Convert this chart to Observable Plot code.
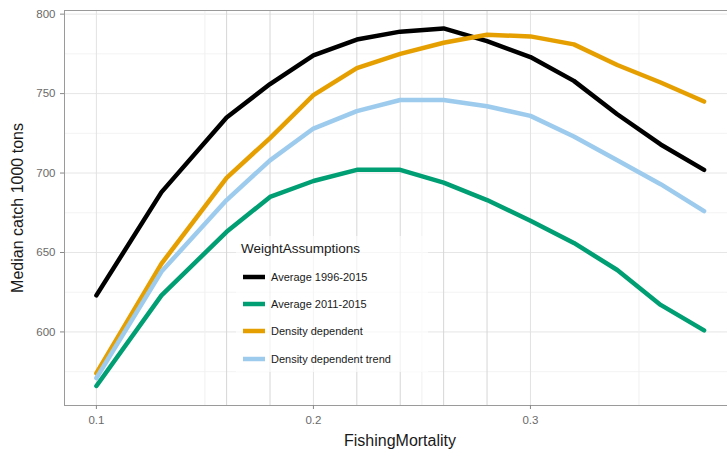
<!DOCTYPE html>
<html><head><meta charset="utf-8">
<script src="https://cdn.jsdelivr.net/npm/d3@7"></script>
<script src="https://cdn.jsdelivr.net/npm/@observablehq/plot@0.6"></script>
<style>
body{margin:0;background:#fff;font-family:"Liberation Sans",Arial,sans-serif;}
#wrap{position:relative;width:727px;height:455px;overflow:hidden;}
#legend{position:absolute;left:236px;top:236px;width:192px;height:136px;background:rgba(255,255,255,0.65);}
#legend .title{position:absolute;left:5px;top:5px;font-size:13.5px;color:#1a1a1a;line-height:16px;white-space:nowrap;}
#legend .item{position:absolute;left:7px;height:16px;display:flex;align-items:center;font-size:11px;color:#1a1a1a;white-space:nowrap;}
#legend .item svg{margin-right:6px;}
</style></head><body><div id="wrap"></div>
<script>
// data
const fishing = [0.1, 0.13, 0.16, 0.18, 0.2, 0.22, 0.24, 0.26, 0.28, 0.3, 0.32, 0.34, 0.36, 0.38];
const avg19962015 = [623, 688, 735, 756, 774, 784, 789, 791, 783, 773, 758, 737, 718, 702];
const avg20112015 = [566, 623, 663, 685, 695, 702, 702, 694, 683, 670, 656, 639, 617, 601];
const densityDependent = [574, 643, 697, 722, 749, 766, 775, 782, 787, 786, 781, 768, 757, 745];
const densityTrend = [571, 638, 683, 708, 728, 739, 746, 746, 742, 736, 723, 708, 693, 676];
const seriesNames = ["Average 1996-2015", "Average 2011-2015", "Density dependent", "Density dependent trend"];
const seriesColors = ["#000000", "#009E73", "#E69F00", "#9DCBEE"];
const xTicks = [0.1, 0.2, 0.3];
const xMinor = [0.15, 0.25, 0.35];
const xRefLines = [0.16, 0.18, 0.22, 0.24, 0.26, 0.28];
const yTicks = [600, 650, 700, 750, 800];
const yMinor = [575, 625, 675, 725, 775];
const xTitle = "FishingMortality";
const yTitle = "Median catch 1000 tons";
const legendTitle = "WeightAssumptions";

const seriesValues = [avg19962015, avg20112015, densityDependent, densityTrend];
const rows = seriesNames.flatMap((name, i) => fishing.map((f, j) => ({F: f, catch: seriesValues[i][j], group: name})));

const font = "'Liberation Sans', Arial, sans-serif";
const plot = Plot.plot({
  width: 727, height: 455,
  marginLeft: 64, marginTop: 10, marginRight: 0, marginBottom: 50,
  x: {domain: [0.0853, 0.3908]},
  y: {domain: [553.7, 802.3]},
  color: {domain: seriesNames, range: seriesColors},
  style: {fontFamily: font, background: "#fff", overflow: "visible"},
  marks: [
    Plot.ruleY(yMinor, {stroke: "#f3f3f3", strokeWidth: 1}),
    Plot.ruleY(yTicks, {stroke: "#e6e6e6", strokeWidth: 1}),
    Plot.ruleX(xMinor, {stroke: "#f0f0f0", strokeWidth: 1}),
    Plot.ruleX(xTicks, {stroke: "#e2e2e2", strokeWidth: 1}),
    Plot.ruleX(xRefLines, {stroke: "#d6d6d6", strokeWidth: 1}),
    Plot.line(rows, {x: "F", y: "catch", z: "group", stroke: "group", strokeWidth: 4.5, strokeLinejoin: "round"}),
    Plot.frame({stroke: "#9a9a9a", strokeWidth: 1}),
    Plot.axisX(xTicks, {tickSize: 4, tickPadding: 6, fontSize: 11.5, color: "#6a6a6a", stroke: "#888",
      tickFormat: d => String(d), label: null}),
    Plot.axisY(yTicks, {tickSize: 4, tickPadding: 5, fontSize: 11.5, color: "#6a6a6a", stroke: "#888", label: null})
  ]
});
const svg = d3.select(plot);
svg.append("text").attr("x", 400).attr("y", 446).attr("text-anchor", "middle")
  .attr("font-size", 16).attr("fill", "#1a1a1a").text(xTitle);
svg.append("text").attr("transform", "translate(23,208) rotate(-90)").attr("text-anchor", "middle")
  .attr("font-size", 16).attr("fill", "#1a1a1a").text(yTitle);
const wrap = document.getElementById("wrap");
wrap.appendChild(plot);

// legend
const lg = document.createElement("div");
lg.id = "legend";
const tt = document.createElement("div");
tt.className = "title"; tt.textContent = legendTitle;
lg.appendChild(tt);
seriesNames.forEach((name, i) => {
  const it = document.createElement("div");
  it.className = "item";
  it.style.top = (33 + i * 27.2) + "px";
  it.innerHTML = `<svg width="22" height="8"><line x1="0" x2="22" y1="4" y2="4" stroke="${seriesColors[i]}" stroke-width="4.5"/></svg><span>${name}</span>`;
  lg.appendChild(it);
});
wrap.appendChild(lg);
</script></body></html>
